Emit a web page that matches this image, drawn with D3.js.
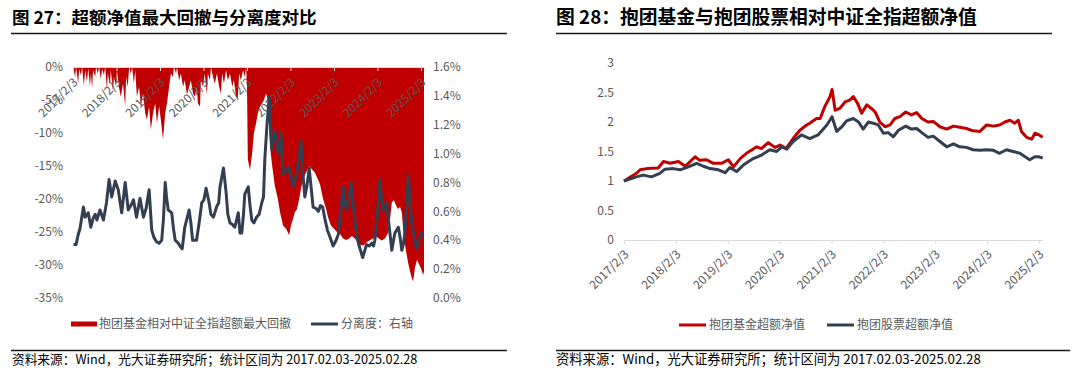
<!DOCTYPE html>
<html><head><meta charset="utf-8">
<script src="https://cdn.jsdelivr.net/npm/d3@7/dist/d3.min.js"></script>
<style>
body{margin:0;background:#fff;}
svg{display:block;font-family:"Noto Sans CJK SC","Noto Sans",sans-serif;}
</style></head><body>
<svg id="c" width="1080" height="374"></svg>
<script>
// ---- data ----
const tickYears = [2017.09,2018.09,2019.09,2020.09,2021.09,2022.09,2023.09,2024.09,2025.09];
const tickLabels = ["2017/2/3","2018/2/3","2019/2/3","2020/2/3","2021/2/3","2022/2/3","2023/2/3","2024/2/3","2025/2/3"];
const ddTicks = [0,-5,-10,-15,-20,-25,-30,-35];
const sepTicks = [0,0.2,0.4,0.6,0.8,1.0,1.2,1.4,1.6];
const navTicks = [0,0.5,1,1.5,2,2.5,3];
const titles = ["图 27：超额净值最大回撤与分离度对比","图 28：抱团基金与抱团股票相对中证全指超额净值"];
const source = "资料来源：Wind，光大证券研究所；统计区间为 2017.02.03-2025.02.28";
const leftSeries = ["抱团基金相对中证全指超额最大回撤","分离度：右轴"];
const rightSeries = ["抱团基金超额净值","抱团股票超额净值"];

// drawdown (%), [decimal year, value]
const drawdown = [[2017.09,0],[2017.14,-1.5],[2017.16,0],[2017.21,-2.5],[2017.23,-0.3],[2017.27,-1.2],[2017.30,0],[2017.34,-2.8],[2017.37,-0.5],[2017.41,-2.2],[2017.44,-0.2],[2017.48,-3],[2017.50,-1],[2017.53,-3.2],[2017.55,-0.5],[2017.60,-1.5],[2017.62,0],[2017.66,-1],[2017.69,0],[2017.73,-1.8],[2017.76,-0.3],[2017.80,-1.2],[2017.83,0],[2017.87,-3.5],[2017.89,-1],[2017.94,-2.8],[2017.96,-0.5],[2018.01,-3.8],[2018.03,-1.5],[2018.08,-3],[2018.10,-0.5],[2018.15,-3.2],[2018.19,-4.5],[2018.24,-2.5],[2018.29,-6],[2018.31,-1.5],[2018.35,-3],[2018.38,0],[2018.42,-1],[2018.45,0],[2018.49,-2.5],[2018.52,-0.5],[2018.56,-4.5],[2018.61,-3],[2018.65,-6],[2018.70,-4],[2018.75,-7],[2018.79,-8],[2018.84,-6],[2018.88,-9.5],[2018.93,-7],[2018.98,-5.5],[2019.02,-8.5],[2019.07,-6],[2019.11,-8],[2019.16,-11],[2019.21,-7],[2019.25,-5.5],[2019.30,-3],[2019.34,-1],[2019.39,-1.5],[2019.41,0],[2019.46,-1],[2019.48,0],[2019.53,-2],[2019.57,-1],[2019.62,-3],[2019.66,-2],[2019.71,-4.2],[2019.76,-3],[2019.80,-2],[2019.85,-4],[2019.89,-4.5],[2019.94,-3],[2019.96,-5.5],[2020.01,-6],[2020.03,-2],[2020.08,-3],[2020.12,-1],[2020.17,-4.2],[2020.19,-1],[2020.24,-2],[2020.26,0],[2020.31,-1.5],[2020.35,-2.5],[2020.40,-1],[2020.45,-3],[2020.49,-4],[2020.52,-1],[2020.56,-2.5],[2020.61,-0.5],[2020.65,-2],[2020.70,-1],[2020.75,-3],[2020.79,-2],[2020.84,-4.5],[2020.88,-4.7],[2020.91,-1],[2020.95,-2],[2021.00,-0.5],[2021.04,-1.5],[2021.07,0],[2021.09,-3],[2021.11,-14],[2021.16,-15.6],[2021.21,-13],[2021.25,-10],[2021.30,-8.5],[2021.34,-7],[2021.39,-6],[2021.44,-5.5],[2021.48,-5],[2021.53,-4],[2021.57,-5],[2021.62,-12],[2021.67,-15],[2021.73,-18],[2021.80,-20],[2021.85,-22],[2021.92,-24],[2021.99,-24.5],[2022.06,-25.5],[2022.10,-24],[2022.15,-23],[2022.19,-22],[2022.24,-21.5],[2022.29,-20],[2022.33,-18.5],[2022.38,-17],[2022.45,-16],[2022.52,-15],[2022.58,-15.5],[2022.65,-16],[2022.72,-17],[2022.77,-17.8],[2022.84,-20],[2022.91,-21.5],[2022.95,-22.7],[2023.02,-24],[2023.09,-24.5],[2023.16,-25],[2023.23,-25.3],[2023.30,-26],[2023.37,-26.2],[2023.44,-26],[2023.50,-25.6],[2023.57,-26],[2023.64,-26.5],[2023.71,-27],[2023.78,-27],[2023.85,-26.5],[2023.92,-26.2],[2023.99,-26],[2024.06,-25.7],[2024.12,-26],[2024.19,-26.3],[2024.26,-26],[2024.33,-25.2],[2024.38,-23],[2024.42,-20.5],[2024.47,-20.2],[2024.52,-21],[2024.56,-21.5],[2024.61,-21.2],[2024.65,-22],[2024.70,-26],[2024.75,-28],[2024.79,-29.5],[2024.84,-31],[2024.88,-32],[2024.91,-32.5],[2024.95,-30.5],[2025.00,-29.2],[2025.04,-29.8],[2025.09,-30.5],[2025.14,-31.5],[2025.16,-31]];

// separation (%), right axis
const separation = [[2017.10,0.37],[2017.16,0.37],[2017.21,0.44],[2017.25,0.48],[2017.33,0.63],[2017.37,0.56],[2017.44,0.59],[2017.50,0.49],[2017.55,0.55],[2017.60,0.58],[2017.64,0.54],[2017.71,0.61],[2017.79,0.54],[2017.86,0.66],[2017.92,0.82],[2017.98,0.70],[2018.01,0.74],[2018.06,0.81],[2018.13,0.75],[2018.21,0.59],[2018.29,0.80],[2018.36,0.61],[2018.42,0.64],[2018.48,0.68],[2018.55,0.56],[2018.63,0.69],[2018.71,0.56],[2018.77,0.62],[2018.84,0.75],[2018.90,0.47],[2018.95,0.42],[2019.01,0.39],[2019.07,0.38],[2019.13,0.40],[2019.17,0.55],[2019.21,0.80],[2019.24,0.70],[2019.28,0.61],[2019.36,0.59],[2019.40,0.48],[2019.44,0.40],[2019.51,0.38],[2019.55,0.36],[2019.60,0.34],[2019.66,0.49],[2019.71,0.55],[2019.76,0.61],[2019.80,0.52],[2019.84,0.40],[2019.93,0.40],[2019.99,0.52],[2020.05,0.66],[2020.10,0.68],[2020.15,0.76],[2020.22,0.66],[2020.26,0.58],[2020.32,0.56],[2020.39,0.63],[2020.44,0.66],[2020.47,0.77],[2020.55,0.90],[2020.61,0.73],[2020.65,0.58],[2020.70,0.52],[2020.75,0.51],[2020.81,0.49],[2020.89,0.59],[2020.93,0.45],[2020.97,0.45],[2021.01,0.58],[2021.04,0.72],[2021.12,0.77],[2021.16,0.64],[2021.20,0.54],[2021.25,0.52],[2021.31,0.56],[2021.37,0.58],[2021.43,0.66],[2021.47,0.70],[2021.50,0.96],[2021.55,1.20],[2021.60,1.39],[2021.63,1.20],[2021.66,1.03],[2021.70,1.10],[2021.73,1.16],[2021.81,1.00],[2021.87,1.14],[2021.92,0.86],[2021.99,0.88],[2022.04,0.91],[2022.10,0.84],[2022.15,0.77],[2022.23,0.86],[2022.29,0.98],[2022.33,1.09],[2022.38,0.85],[2022.42,0.70],[2022.47,0.78],[2022.52,0.90],[2022.57,0.75],[2022.61,0.63],[2022.68,0.62],[2022.73,0.60],[2022.78,0.64],[2022.83,0.63],[2022.88,0.55],[2022.94,0.47],[2023.00,0.42],[2023.07,0.36],[2023.14,0.40],[2023.19,0.44],[2023.25,0.62],[2023.30,0.77],[2023.34,0.68],[2023.38,0.61],[2023.44,0.70],[2023.48,0.80],[2023.53,0.66],[2023.57,0.54],[2023.62,0.42],[2023.67,0.36],[2023.75,0.28],[2023.79,0.32],[2023.84,0.37],[2023.90,0.36],[2023.96,0.38],[2024.00,0.36],[2024.03,0.40],[2024.08,0.55],[2024.15,0.82],[2024.18,0.70],[2024.22,0.61],[2024.30,0.66],[2024.35,0.52],[2024.42,0.33],[2024.46,0.40],[2024.49,0.45],[2024.57,0.49],[2024.61,0.42],[2024.65,0.33],[2024.69,0.38],[2024.72,0.45],[2024.77,0.70],[2024.80,0.85],[2024.84,0.65],[2024.88,0.52],[2024.93,0.43],[2024.99,0.34],[2025.04,0.40],[2025.11,0.45],[2025.14,0.43]];

// excess NAV of holding-group funds
const fundNav = [[2017.09,1.00],[2017.33,1.13],[2017.40,1.19],[2017.53,1.21],[2017.75,1.22],[2017.85,1.33],[2017.98,1.30],[2018.14,1.33],[2018.27,1.25],[2018.46,1.41],[2018.55,1.35],[2018.68,1.36],[2018.81,1.30],[2018.97,1.30],[2019.10,1.36],[2019.20,1.24],[2019.33,1.38],[2019.45,1.47],[2019.65,1.58],[2019.74,1.55],[2019.87,1.65],[2020.00,1.57],[2020.10,1.61],[2020.21,1.55],[2020.35,1.72],[2020.48,1.86],[2020.61,1.95],[2020.67,1.98],[2020.80,2.06],[2020.87,2.06],[2020.96,2.26],[2021.06,2.43],[2021.10,2.55],[2021.16,2.20],[2021.25,2.23],[2021.35,2.34],[2021.44,2.37],[2021.51,2.43],[2021.59,2.32],[2021.67,2.15],[2021.77,2.29],[2021.86,2.23],[2021.93,2.17],[2022.02,2.00],[2022.12,1.92],[2022.22,1.95],[2022.31,2.06],[2022.41,2.09],[2022.52,2.17],[2022.63,2.12],[2022.73,2.16],[2022.83,2.06],[2022.95,2.00],[2023.05,2.01],[2023.18,1.92],[2023.31,1.88],[2023.44,1.93],[2023.56,1.91],[2023.69,1.89],[2023.82,1.85],[2023.95,1.84],[2024.08,1.95],[2024.21,1.93],[2024.33,1.95],[2024.43,2.00],[2024.53,2.03],[2024.62,1.98],[2024.69,2.03],[2024.75,1.84],[2024.85,1.74],[2024.95,1.71],[2025.01,1.81],[2025.09,1.78],[2025.16,1.74]];

// excess NAV of holding-group stocks
const stockNav = [[2017.09,1.00],[2017.33,1.07],[2017.46,1.10],[2017.62,1.07],[2017.78,1.13],[2017.88,1.20],[2018.04,1.21],[2018.17,1.19],[2018.33,1.24],[2018.49,1.30],[2018.62,1.25],[2018.75,1.21],[2018.91,1.19],[2019.04,1.14],[2019.13,1.23],[2019.26,1.16],[2019.39,1.27],[2019.58,1.38],[2019.74,1.44],[2019.90,1.53],[2020.03,1.50],[2020.13,1.58],[2020.23,1.54],[2020.35,1.67],[2020.51,1.78],[2020.67,1.72],[2020.83,1.78],[2021.00,1.95],[2021.10,2.09],[2021.19,1.84],[2021.29,1.92],[2021.38,2.02],[2021.51,2.06],[2021.61,2.00],[2021.70,1.88],[2021.80,2.00],[2021.89,1.98],[2021.99,1.95],[2022.09,1.81],[2022.18,1.82],[2022.28,1.75],[2022.38,1.86],[2022.52,1.93],[2022.63,1.88],[2022.73,1.89],[2022.83,1.82],[2022.95,1.74],[2023.05,1.76],[2023.18,1.67],[2023.31,1.58],[2023.44,1.63],[2023.56,1.58],[2023.69,1.57],[2023.82,1.53],[2023.95,1.52],[2024.08,1.53],[2024.21,1.52],[2024.33,1.47],[2024.46,1.53],[2024.59,1.50],[2024.72,1.47],[2024.82,1.41],[2024.91,1.36],[2025.01,1.41],[2025.09,1.41],[2025.16,1.39]];

// ---- colours ----
const RED = "#C00000", NAVY = "#333F50", AXIS = "#D9D9D9", LABEL = "#595959";

const svg = d3.select("#c");

// ---- headers / footers ----
[[12, titles[0], 11, 507, 17.5], [556, titles[1], 556, 1052, 18.8]].forEach(([x, t, a, b, fs]) => {
  svg.append("text").attr("x", x).attr("y", 24).attr("font-size", fs)
    .attr("font-weight", "bold").attr("fill", "#000").text(t);
  svg.append("line").attr("x1", a).attr("x2", b).attr("y1", 33.5).attr("y2", 33.5)
    .attr("stroke", "#1a1a1a").attr("stroke-width", 1.5);
});
[[12, 11, 507, 12.7], [556, 556, 1070, 13.3]].forEach(([x, a, b, fs]) => {
  svg.append("line").attr("x1", a).attr("x2", b).attr("y1", 350.5).attr("y2", 350.5)
    .attr("stroke", "#1a1a1a").attr("stroke-width", 1.5);
  svg.append("text").attr("x", x).attr("y", 364).attr("font-size", fs)
    .attr("fill", "#000").text(source);
});

// ---- left chart ----
const xL = d3.scaleLinear().domain([2017.09, 2025.16]).range([73, 424]);
const yL = d3.scaleLinear().domain([-35, 0]).range([298, 67]);
const yR = d3.scaleLinear().domain([0, 1.6]).range([298, 67]);

const gL = svg.append("g");
gL.append("path").datum(drawdown)
  .attr("d", d3.area().x(d => xL(d[0])).y0(yL(0)).y1(d => yL(d[1])))
  .attr("fill", RED);

const axL = gL.append("g").attr("transform", `translate(0,${yL(0)})`)
  .call(d3.axisBottom(xL).tickValues(tickYears).tickSize(4).tickSizeOuter(0)
    .tickFormat((d, i) => tickLabels[i]));
axL.select(".domain").attr("stroke", AXIS);
axL.selectAll(".tick line").attr("stroke", AXIS);
axL.selectAll(".tick text").attr("fill", LABEL).attr("font-size", 12)
  .attr("font-family", '"Noto Sans CJK SC",sans-serif')
  .attr("text-anchor", "end").attr("x", 0).attr("y", 0).attr("dy", "0.35em")
  .attr("transform", "translate(2,13) rotate(-45)");

gL.selectAll(".ylab").data(ddTicks).enter().append("text")
  .attr("x", 63).attr("y", d => yL(d)).attr("dy", "0.35em")
  .attr("text-anchor", "end").attr("font-size", 12).attr("fill", LABEL)
  .text(d => d + "%");
gL.selectAll(".yrlab").data(sepTicks).enter().append("text")
  .attr("x", 433).attr("y", d => yR(d)).attr("dy", "0.35em")
  .attr("text-anchor", "start").attr("font-size", 12).attr("fill", LABEL)
  .text(d => d.toFixed(1) + "%");

gL.append("path").datum(separation)
  .attr("d", d3.line().x(d => xL(d[0])).y(d => yR(d[1])))
  .attr("fill", "none").attr("stroke", NAVY).attr("stroke-width", 3)
  .attr("stroke-linejoin", "round");

// left legend
gL.append("rect").attr("x", 71).attr("y", 321.5).attr("width", 26).attr("height", 5).attr("fill", RED);
gL.append("text").attr("x", 99).attr("y", 324).attr("dy", "0.35em").attr("font-size", 12)
  .attr("fill", LABEL).text(leftSeries[0]);
gL.append("line").attr("x1", 311).attr("x2", 338).attr("y1", 324).attr("y2", 324)
  .attr("stroke", NAVY).attr("stroke-width", 3);
gL.append("text").attr("x", 341).attr("y", 324).attr("dy", "0.35em").attr("font-size", 12)
  .attr("fill", LABEL).text(leftSeries[1]);

// ---- right chart ----
const xN = d3.scaleLinear().domain([2017.09, 2025.16]).range([624, 1042.7]);
const yN = d3.scaleLinear().domain([0, 3]).range([240, 63]);
const gR = svg.append("g");

const axN = gR.append("g").attr("transform", `translate(0,${yN(0)})`)
  .call(d3.axisBottom(xN).tickValues(tickYears).tickSize(4).tickSizeOuter(0)
    .tickFormat((d, i) => tickLabels[i]));
axN.select(".domain").attr("stroke", AXIS);
axN.selectAll(".tick line").attr("stroke", AXIS);
axN.selectAll(".tick text").attr("fill", LABEL).attr("font-size", 12)
  .attr("font-family", '"Noto Sans CJK SC",sans-serif')
  .attr("text-anchor", "end").attr("x", 0).attr("y", 0).attr("dy", "0.35em")
  .attr("transform", "translate(2,12) rotate(-45)");

gR.selectAll(".nlab").data(navTicks).enter().append("text")
  .attr("x", 614).attr("y", d => yN(d)).attr("dy", "0.35em")
  .attr("text-anchor", "end").attr("font-size", 12).attr("fill", LABEL)
  .text(d => String(d));

const lineN = d3.line().x(d => xN(d[0])).y(d => yN(d[1]));
gR.append("path").datum(fundNav).attr("d", lineN).attr("fill", "none")
  .attr("stroke", RED).attr("stroke-width", 3).attr("stroke-linejoin", "round");
gR.append("path").datum(stockNav).attr("d", lineN).attr("fill", "none")
  .attr("stroke", NAVY).attr("stroke-width", 3).attr("stroke-linejoin", "round");

// right legend
gR.append("line").attr("x1", 679).attr("x2", 706).attr("y1", 325).attr("y2", 325)
  .attr("stroke", RED).attr("stroke-width", 3);
gR.append("text").attr("x", 709).attr("y", 325).attr("dy", "0.35em").attr("font-size", 12)
  .attr("fill", LABEL).text(rightSeries[0]);
gR.append("line").attr("x1", 827).attr("x2", 854).attr("y1", 325).attr("y2", 325)
  .attr("stroke", NAVY).attr("stroke-width", 3);
gR.append("text").attr("x", 857).attr("y", 325).attr("dy", "0.35em").attr("font-size", 12)
  .attr("fill", LABEL).text(rightSeries[1]);
</script>
</body></html>
